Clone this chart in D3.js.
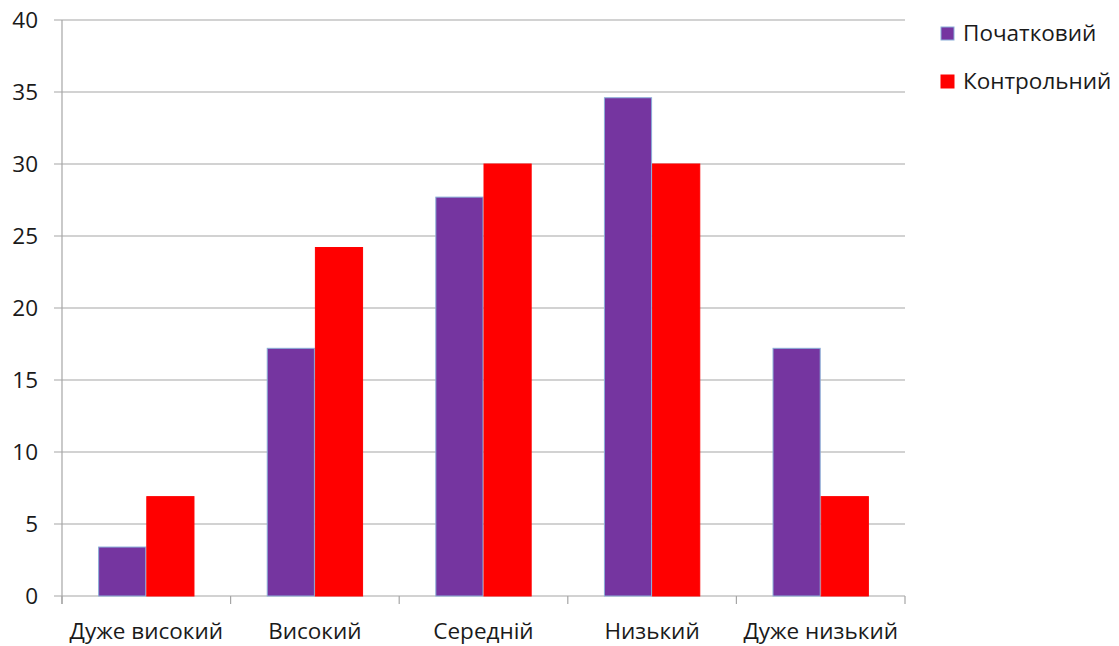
<!DOCTYPE html>
<html><head><meta charset="utf-8">
<script src="https://cdn.jsdelivr.net/npm/d3@7"></script>
<style>body{margin:0;background:#fff}svg text{font-family:"Open Sans","Liberation Sans",sans-serif;fill:#1a1a1a}</style>
</head><body>
<svg id="c" width="1119" height="646"></svg>
<script>
const categories = ["Дуже високий","Високий","Середній","Низький","Дуже низький"];
const seriesNames = ["Початковий","Контрольний"];
const initialValues = [3.4, 17.2, 27.7, 34.6, 17.2];
const controlValues = [6.9, 24.2, 30.0, 30.0, 6.9];
const yTicks = [0,5,10,15,20,25,30,35,40];
const colors = ["#7535A0","#FF0000"];
const strokes = ["#8aaed8","#FF0000"];

const svg = d3.select("#c");
const m = {l:62, r:1119-905, t:20, b:646-596};
const W = 1119, H = 646;
const x = d3.scaleBand().domain(categories).range([m.l, W-m.r]).paddingInner(0).paddingOuter(0);
const x1 = d3.scaleBand().domain(seriesNames).range([0, x.bandwidth()]).paddingInner(0).paddingOuter(0.75);
const y = d3.scaleLinear().domain([0,40]).range([H-m.b, m.t]);

svg.append("g").selectAll("line").data(yTicks).join("line")
  .attr("x1", 54).attr("x2", W-m.r).attr("y1", d=>y(d)).attr("y2", d=>y(d))
  .attr("stroke","#a6a6a6").attr("stroke-width",1.2);
svg.append("line").attr("x1",m.l).attr("x2",m.l).attr("y1",y(40)).attr("y2",y(0)+8).attr("stroke","#a6a6a6").attr("stroke-width",1.2);
svg.append("g").selectAll("text").data(yTicks).join("text")
  .attr("x", 38).attr("y", d=>y(d)).attr("dy","0.35em").attr("text-anchor","end")
  .attr("font-size",22.5).text(d=>d);
const bounds = categories.map(c=>x(c)).concat([W-m.r]);
svg.append("g").selectAll("line").data(bounds).join("line")
  .attr("x1",d=>d).attr("x2",d=>d).attr("y1",y(0)).attr("y2",y(0)+8)
  .attr("stroke","#a6a6a6").attr("stroke-width",1.2);
const data = categories.map((c,i)=>({c, vals:[initialValues[i], controlValues[i]]}));
const g = svg.append("g").selectAll("g").data(data).join("g").attr("transform", d=>`translate(${x(d.c)},0)`);
g.selectAll("rect").data(d=>d.vals.map((v,j)=>({v,j}))).join("rect")
  .attr("x", d=>x1(seriesNames[d.j])+0.5).attr("width", x1.bandwidth()-1)
  .attr("y", d=>y(d.v)).attr("height", d=>y(0)-y(d.v))
  .attr("fill", d=>colors[d.j]).attr("stroke", d=>strokes[d.j]).attr("stroke-width",1);
svg.append("g").selectAll("text").data(categories).join("text")
  .attr("x", d=>x(d)+x.bandwidth()/2).attr("y", 631).attr("dy","0.35em").attr("text-anchor","middle")
  .attr("font-size",22.5).text(d=>d);
const lg = svg.append("g").selectAll("g").data(seriesNames).join("g").attr("transform",(d,i)=>`translate(941,${27+i*48})`);
lg.append("rect").attr("width",13).attr("height",13).attr("fill",(d,i)=>colors[i]).attr("stroke",(d,i)=>strokes[i]);
lg.append("text").attr("x",22).attr("y",6.5).attr("dy","0.35em").attr("font-size",22.5).text(d=>d);
</script>
</body></html>
